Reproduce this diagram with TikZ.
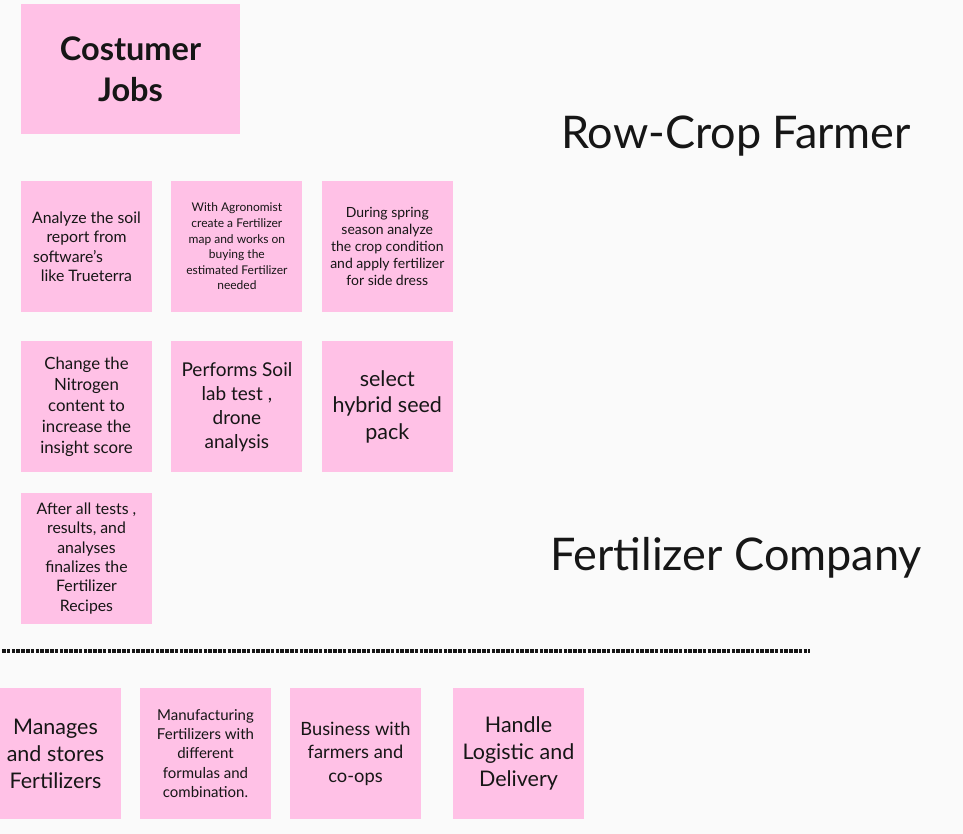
\documentclass[tikz,border=0pt]{standalone}
\usepackage{fontspec}
\setmainfont{Lato}
\usetikzlibrary{positioning}
\definecolor{stickypink}{HTML}{FFC1E6}
\definecolor{boardgrey}{HTML}{FAFAFA}
\definecolor{inkdark}{HTML}{161616}
\newcommand{\nsize}[2]{\fontsize{#1}{#2}\selectfont}

\begin{document}
\begin{tikzpicture}[
    x=1pt, y=-1pt,
    note/.style={fill=stickypink, text=inkdark, inner sep=0pt, align=center,
      minimum width=131pt, minimum height=131pt},
    heading/.style={text=inkdark, inner sep=0pt, font=\nsize{45}{50}}
  ]
  \fill[boardgrey] (0,0) rectangle (963,834);
  \useasboundingbox (0,0) rectangle (963,834);

  % header note
  \node[note, minimum width=219pt, minimum height=130pt, font=\bfseries\nsize{32.5}{41}]
    (jobs) at (130.5,69) {Costumer\\Jobs};

  % row-crop farmer jobs
  \node[note, font=\nsize{15.8}{19.5}] (soilreport) at (86.5,246.5)
    {Analyze the soil\\report from\\\makebox[107pt][l]{software's}\\like Trueterra};
  \node[note, right=19pt of soilreport, font=\nsize{12}{15.6}] (fertmap)
    {With Agronomist\\create a Fertilizer\\map and works on\\buying the\\estimated Fertilizer\\needed};
  \node[note, right=19pt of fertmap, font=\nsize{14}{17.2}] (sidedress)
    {During spring\\season analyze\\the crop condition\\and apply fertilizer\\for side dress};

  \node[note, below=29pt of soilreport, font=\nsize{16.8}{21}] (nitrogen)
    {Change the\\Nitrogen\\content to\\increase the\\insight score};
  \node[note, right=19pt of nitrogen, font=\nsize{19}{24}] (labtest)
    {Performs Soil\\lab test ,\\drone\\analysis};
  \node[note, right=19pt of labtest, font=\nsize{21.5}{26.5}] (seedpack)
    {select\\hybrid seed\\pack};

  \node[note, below=20pt of nitrogen, font=\nsize{15.8}{19.4}] (recipes)
    {After all tests ,\\results, and\\analyses\\finalizes the\\Fertilizer\\Recipes};

  % section titles
  \node[heading] (farmer) at (736,136) {Row-Crop Farmer};
  \node[heading] (company) at (736,558) {Fertilizer Company};

  % divider
  \coordinate (divleft) at (2,651);
  \coordinate (divright) at (810,651);
  \draw[inkdark, line width=3.5pt, dash pattern=on 3.5pt off 1.3pt] (divleft) -- (divright);

  % fertilizer company jobs
  \node[note, font=\nsize{21.5}{27}] (stores) at (55.5,753.5)
    {Manages\\and stores\\Fertilizers};
  \node[note, font=\nsize{15}{19.3}] (manufacture) at (205.5,753.5)
    {Manufacturing\\Fertilizers with\\different\\formulas and\\combination.};
  \node[note, font=\nsize{18.3}{23.5}] (business) at (355.5,753.5)
    {Business with\\farmers and\\co-ops};
  \node[note, font=\nsize{21.5}{27}] (logistic) at (518.5,753.5)
    {Handle\\Logistic and\\Delivery};
\end{tikzpicture}
\end{document}
